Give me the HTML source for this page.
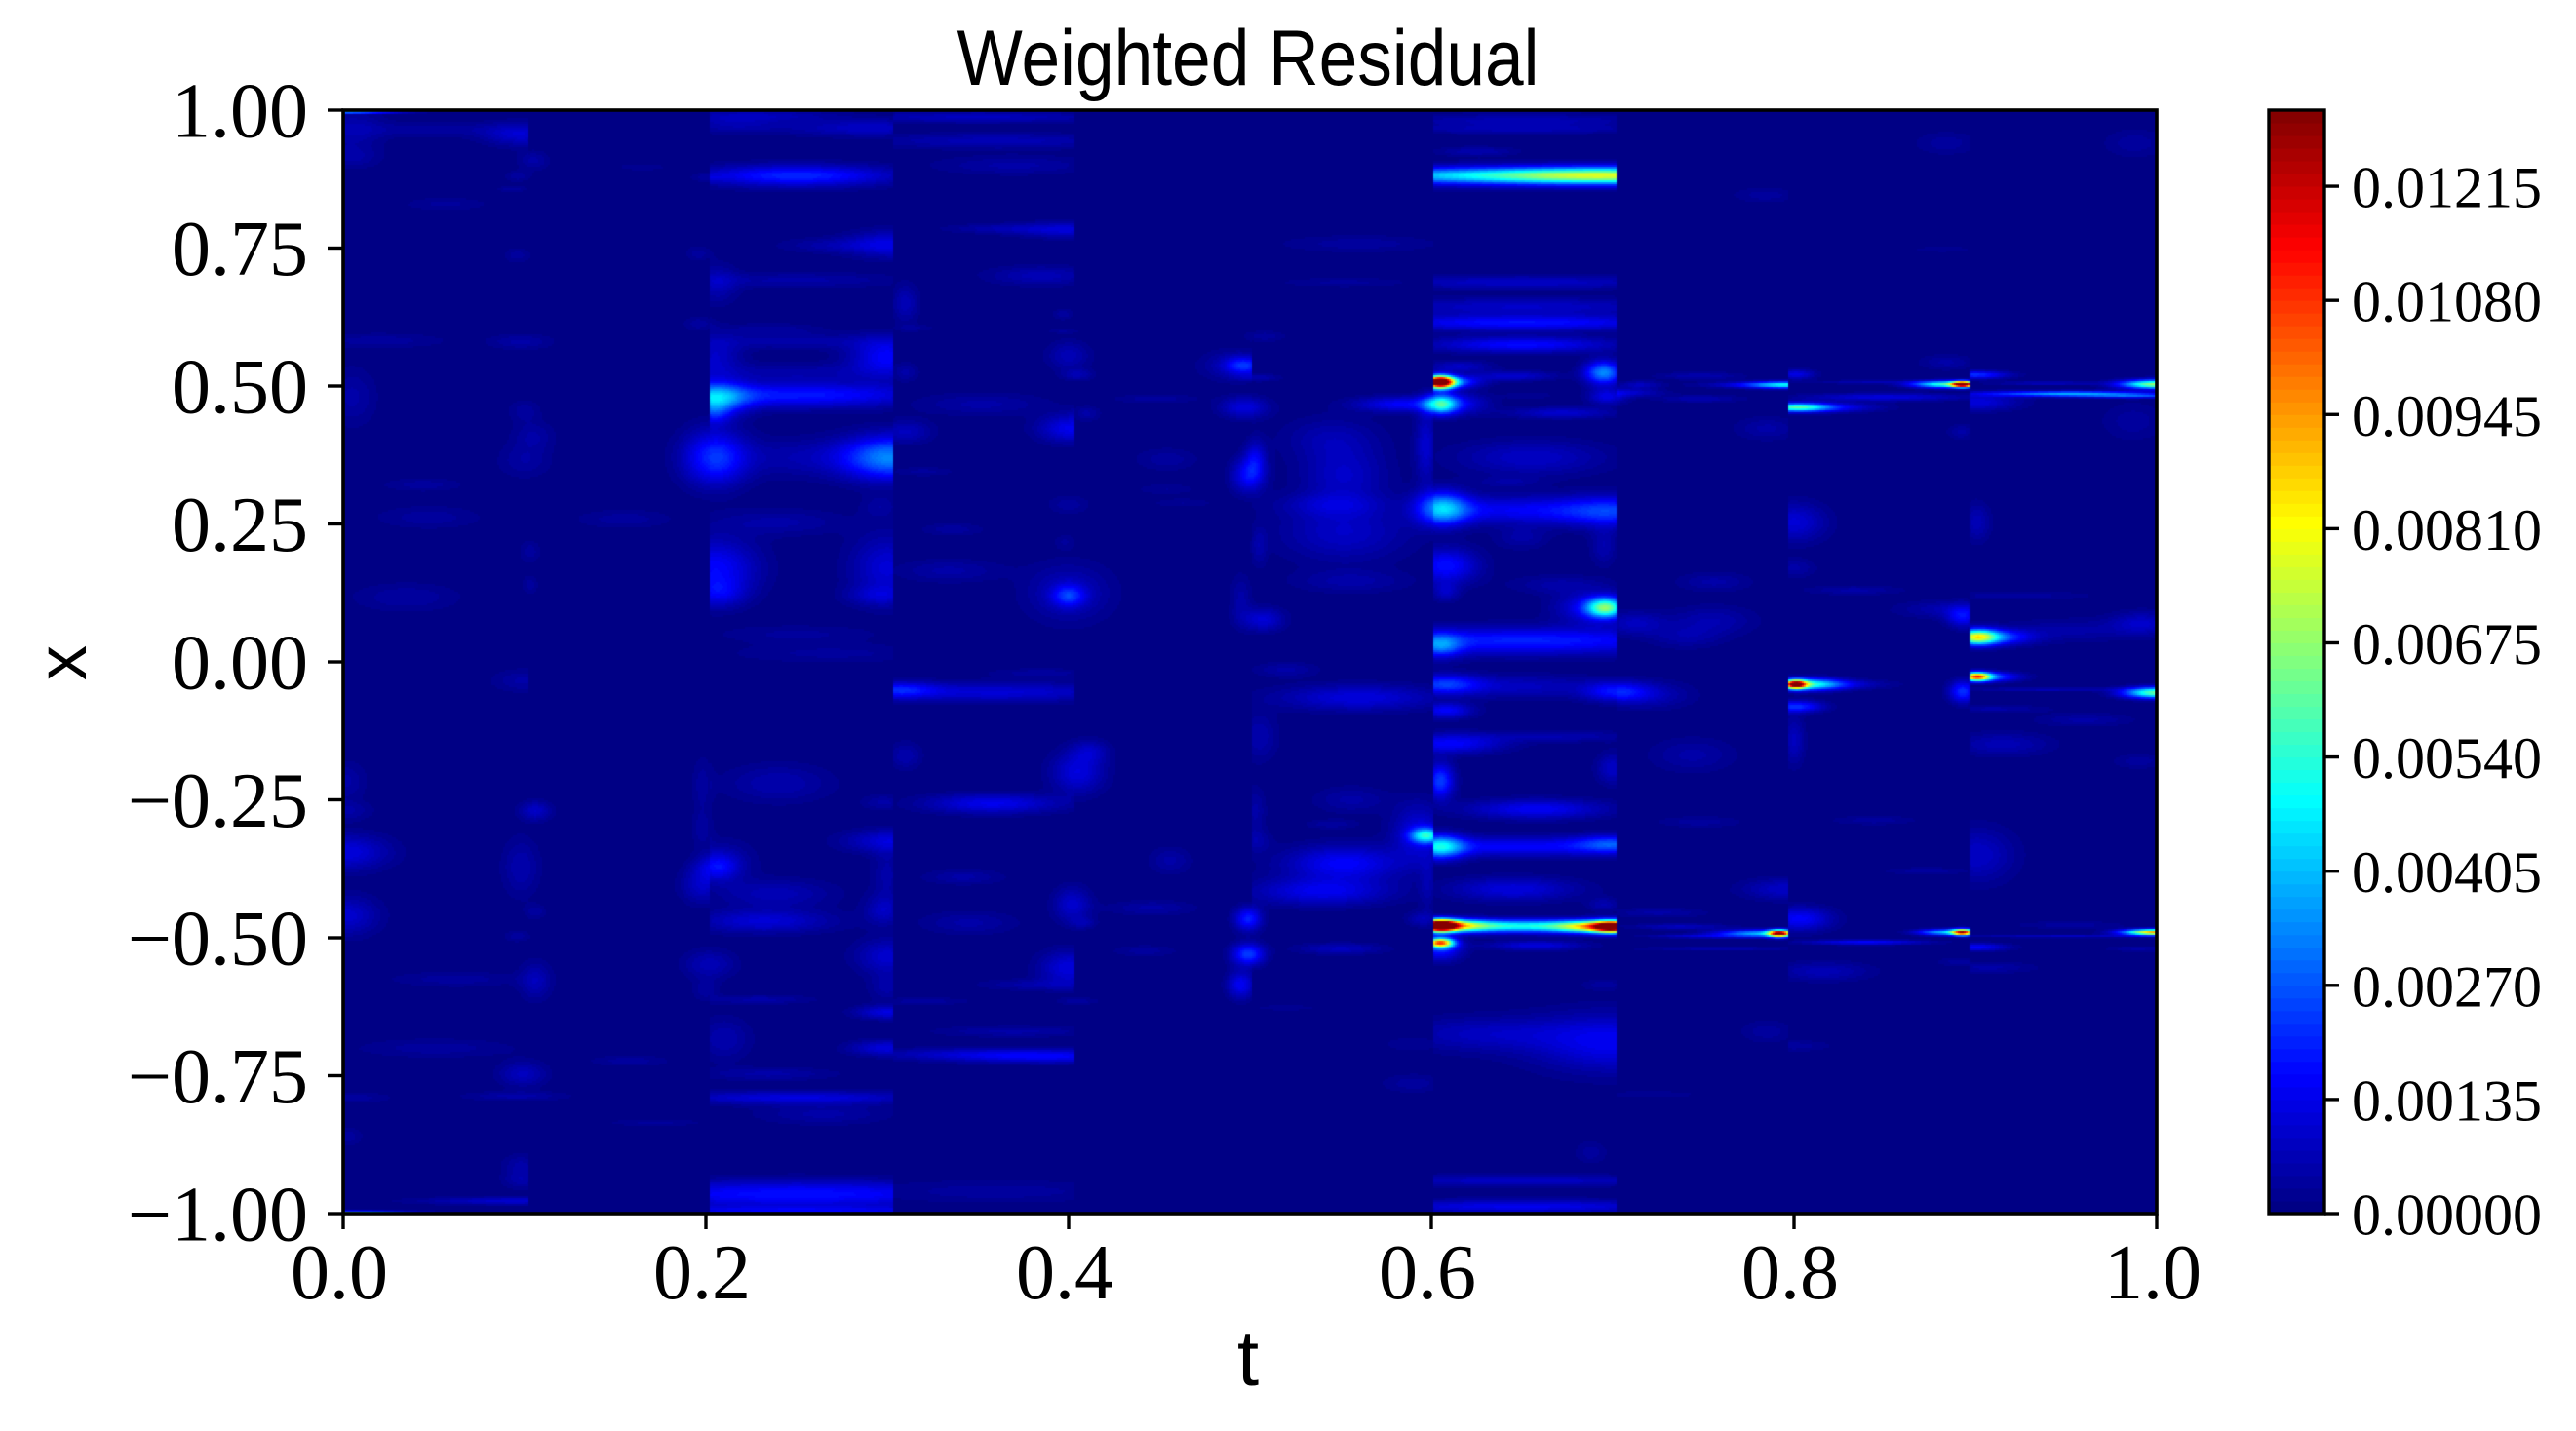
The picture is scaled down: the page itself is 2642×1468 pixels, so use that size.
<!DOCTYPE html>
<html lang="en">
<head>
<meta charset="utf-8">
<title>Weighted Residual</title>
<style>
html,body{margin:0;padding:0;background:#fff;}
#figure{position:relative;width:2642px;height:1468px;overflow:hidden;background:#fff;}
#heatmap-canvas{position:absolute;left:352px;top:113px;width:1860px;height:1132px;}
#overlay{position:absolute;left:0;top:0;}
text{fill:#000;}
.serif{font-family:"Liberation Serif",serif;}
.sans{font-family:"Liberation Sans",sans-serif;}
</style>
</head>
<body>
<div id="figure">
<canvas id="heatmap-canvas" width="1860" height="1132"></canvas>
<svg id="overlay" width="2642" height="1468" viewBox="0 0 2642 1468" xmlns="http://www.w3.org/2000/svg">
  <text class="sans" x="1280" y="87" font-size="81" text-anchor="middle" textLength="597" lengthAdjust="spacingAndGlyphs">Weighted Residual</text>
  <text class="sans" x="1280" y="1421" font-size="80" text-anchor="middle">t</text>
  <text class="sans" x="0" y="0" font-size="72" text-anchor="middle" transform="translate(88 680) rotate(-90)">x</text>
  <g id="axis-ticks"></g>
  <g id="colorbar"></g>
  <rect x="352" y="113" width="1860" height="1132" fill="none" stroke="#000" stroke-width="3.6"></rect>
</svg>
</div>
<script>
// Axis ticks
const tTicks = [0, 0.2, 0.4, 0.6, 0.8, 1];
const tTickLabels = ["0.0", "0.2", "0.4", "0.6", "0.8", "1.0"];
const xTicks = [1, 0.75, 0.5, 0.25, 0, -0.25, -0.5, -0.75, -1];
const xTickLabels = ["1.00", "0.75", "0.50", "0.25", "0.00", "\u22120.25", "\u22120.50", "\u22120.75", "\u22121.00"];
const colorTicks = [0, 0.00135, 0.0027, 0.00405, 0.0054, 0.00675, 0.0081, 0.00945, 0.0108, 0.01215];
const colorTickLabels = ["0.00000", "0.00135", "0.00270", "0.00405", "0.00540", "0.00675", "0.00810", "0.00945", "0.01080", "0.01215"];
const colorMax = 0.01305;
const colorStep = 0.00015;

// Training-window edges along t: residual jumps across these
const windowEdges = [0, .102, .202, .303, .403, .501, .601, .702, .797, .897, 1];

// Residual peaks (t, x, peak value, spread in t, spread in x, 1 = bleeds across windows)
const blobT = [
0,.0977,.05,.005,.003,.105,.096,.093,.0565,.096,
.02,.098,.005,.1,.105,.1,.044,.047,.155,.103,
.103,.035,.165,.23,.29,.215,.25,.2,.302,.27,
.206,.25,.196,.196,.236,.3,.205,.25,.25,.31,
.205,.25,.205,.205,.302,.255,.32,.31,.31,.315,
.24,.296,.205,.3,.295,.207,.25,.27,.35,.36,
.37,.4,.36,.385,.352,.401,.41,.4,.405,.397,
.397,.336,.334,.4,.4,.4,.398,.1,.001,.001,
.002,.002,.005,.002,.106,.098,.106,.096,.106,.062,
.051,.099,.095,.158,.172,.098,.098,.095,0,.198,
.198,.206,.198,.21,.24,.302,.3,.298,.298,.238,
.232,.202,.2,.3,.3,.23,.3,.3,.21,.235,
.25,.265,.25,.25,.31,.358,.342,.345,.402,.408,
.4,.38,.405,.306,.36,.385,.39,.34,.32,.37,
.36,.405,.412,.497,.49,.497,.448,.499,.503,.454,
.454,.463,.508,.505,.505,.495,.507,.56,.552,.545,
.552,.545,.552,.556,.597,.605,.585,.612,.605,.605,
.65,.65,.625,.702,.605,.65,.65,.65,.65,.615,
.645,.695,.697,.672,.654,.655,.642,.606,.65,.7,
.65,.608,.695,.608,.67,.696,.69,.65,.605,.712,
.756,.755,.74,.748,.748,.797,.78,.715,.71,.785,
.784,.8,.8,.833,.801,.815,.801,.85,.84,.893,
.883,.884,.882,.892,.884,.883,.893,.921,.901,.915,
.9,.9,.952,.99,.94,1,.988,.987,.901,.992,
.952,.56,.52,.505,.503,.503,.456,.556,.545,.552,
.54,.5975,.593,.598,.499,.446,.499,.495,.442,.55,
.595,.52,.607,.65,.702,.72,.608,.61,.67,.605,
.7,.658,.605,.65,.7,.645,.695,.605,.7,.65,
.61,.69,.605,.605,.658,.695,.7,.63,.59,.59,
.65,.65,.744,.748,.795,.792,.782,.75,.737,.725,
.76,.72,.785,.688,.801,.808,.82,.801,.8,.803,
.84,.893,.883,.893,.844,.873,.816,.8,.891,.901,
.905,1,.94,.91,.96,.915,.99,.901,1,.952,
.9,.95,.907,.99];
const blobX = [
.997,.956,.965,.965,.915,.909,.88,.857,.83,.737,
.582,.58,.48,.455,.41,.365,.321,.262,.259,.2,
.14,.117,.897,.99,.968,.975,.881,.878,.757,.755,
.685,.692,.74,.613,.602,.553,.553,.58,.525,.525,
.478,.484,.45,.37,.37,.37,.345,.417,.65,.605,
.253,.282,.17,.17,.12,.125,.05,.015,.987,.944,
.9,.783,.785,.7,.467,.423,.45,.555,.52,.63,
.6,.24,.165,.12,.125,.285,.218,-.034,-.216,-.27,
-.345,-.46,-.79,-.86,-.27,-.372,-.453,-.497,-.578,-.575,
-.7,-.747,-.787,-.723,-.835,-.913,-.94,-.977,-.998,-.223,
-.305,-.372,-.406,-.36,-.22,-.325,-.385,-.255,-.45,-.42,
-.47,-.548,-.595,-.534,-.59,-.612,-.635,-.7,-.683,-.747,
-.79,-.82,-.965,-.995,-.17,-.257,-.39,-.473,-.44,-.473,
-.555,-.585,-.615,-.051,-.055,-.02,-.715,-.71,-.615,-.67,
-.96,-.2,-.162,.537,.537,.461,.477,.338,.367,.367,
.313,.288,.59,.515,.21,.115,.077,.758,.688,.405,
.338,.285,.235,.146,.392,.467,.467,.468,.507,.507,
.981,.965,.925,.881,.881,.688,.644,.615,.575,.535,
.518,.524,.481,.451,.483,.37,.326,.278,.275,.272,
.225,.174,.21,.127,.14,.098,.098,.038,.03,.07,
.145,.075,.045,.518,.477,.502,.502,.502,.488,.423,
.846,.253,.17,.13,.461,.461,.521,.48,.507,.503,
.503,.94,.748,.417,.543,.095,.082,.12,.045,.045,
.52,.471,.486,.482,.505,.503,.94,.436,.253,.07,
.057,-.065,-.014,-.135,-.27,-.325,-.36,-.25,-.294,-.365,
-.416,-.315,-.31,-.4,-.466,-.446,-.53,-.585,-.524,-.52,
-.466,-.627,-.041,-.045,-.054,-.06,-.088,-.148,-.135,-.216,
-.193,-.267,-.335,-.335,-.33,-.412,-.44,-.478,-.48,-.479,
-.478,-.48,-.509,-.52,-.514,-.585,-.69,-.675,-.693,-.764,
-.94,-.987,-.169,-.29,-.412,-.492,-.492,-.497,-.48,-.455,
-.52,-.784,-.67,-.889,-.041,-.041,-.041,-.081,-.142,-.466,
-.508,-.49,-.49,-.054,-.287,-.379,-.561,-.696,-.544,-.027,
-.027,-.056,-.05,-.085,-.105,-.149,-.18,-.35,-.49,-.477,
-.517,-.497,-.554,-.52];
const blobPeak = [
.005,.001,.0004,.0006,.0005,.0005,.0004,.0004,.00035,.0004,
.0004,.0005,.0005,.0004,.00045,.00045,.0004,.0004,.0004,.0004,
.0004,.00045,.0003,.0006,.0009,.0006,.0021,.0004,.0012,.0005,
.0007,.0005,.0004,.0004,.0004,.0016,.0009,.0005,.0005,.0005,
.0034,.0019,.0012,.0022,.0032,.0006,.00035,.0008,.0007,.0003,
.0005,.0004,.0016,.0011,.0007,.001,.00035,.00035,.0008,.0007,
.0005,.0011,.0005,.0007,.0005,.0014,.0005,.0007,.0006,.0004,
.0003,.0004,.0005,.0018,.0008,.0004,.0003,.0005,.0005,.0005,
.0012,.001,.0004,.0004,.0009,.0006,.0004,.0004,.0007,.0004,
.0004,.0008,.0005,.0004,.00035,.0005,.0005,.001,.006,.0004,
.0004,.0014,.0009,.0005,.0006,.0011,.0005,.0005,.0008,.0007,
.0011,.0007,.0004,.001,.0005,.0005,.0012,.0012,.0006,.0005,
.0012,.0005,.0018,.0012,.0006,.0014,.0005,.0005,.001,.0005,
.0012,.0005,.0004,.0016,.0011,.0004,.0014,.0006,.0004,.0005,
.0004,.0012,.0007,.0019,.0006,.0012,.0004,.0016,.0012,.0004,
.0003,.0003,.0004,.0006,.0005,.0005,.0011,.0004,.00035,.0006,
.0009,.0007,.0009,.0005,.001,.0048,.0016,.0016,.0125,.0045,
.0007,.0006,.0006,.0068,.0032,.0009,.0009,.0018,.0017,.0009,
.001,.0034,.0013,.001,.0003,.0009,.0004,.0036,.0015,.0016,
.0005,.0018,.0006,.0008,.0005,.0055,.0015,.002,.0024,.0008,
.0005,.0006,.0005,.0006,.0006,.0042,.0012,.0008,.0009,.0005,
.0004,.0011,.0005,.0005,.0048,.0016,.0013,.0012,.0006,.0125,
.0055,.0004,.0003,.0005,.0005,.0006,.0016,.0004,.0075,.002,
.0022,.0012,.0038,.002,.0008,.0068,.0004,.0004,.0007,.0009,
.0005,.0012,.0005,.0006,.0005,.0005,.0005,.0005,.0004,.0016,
.0014,.0045,.0012,.0005,.002,.0005,.0024,.0015,.0004,.0008,
.0007,.0003,.0022,.0008,.0018,.0007,.0016,.0016,.0006,.0024,
.0009,.0015,.0042,.0016,.002,.0012,.0006,.0125,.011,.005,
.006,.006,.0095,.002,.0012,.0004,.0014,.0008,.0003,.0004,
.0009,.0014,.0005,.0004,.0009,.0115,.004,.001,.0008,.0005,
.0006,.0003,.0004,.0004,.0115,.0045,.0011,.0022,.0008,.0016,
.0016,.0105,.004,.0022,.0004,.0004,.0007,.0004,.0004,.0085,
.003,.0062,.0007,.0005,.0005,.0007,.0004,.0009,.0095,.0004,
.0016,.0008,.0005,.0005];
const blobSpreadT = [
.02,.014,.03,.012,.012,.006,.005,.006,.016,.005,
.025,.012,.009,.006,.008,.01,.015,.02,.018,.004,
.003,.02,.01,.03,.03,.02,.036,.006,.016,.02,
.008,.04,.005,.006,.02,.014,.01,.04,.04,.005,
.012,.05,.006,.012,.018,.03,.012,.01,.005,.008,
.025,.007,.016,.014,.012,.01,.03,.04,.05,.05,
.03,.02,.02,.02,.025,.012,.005,.008,.006,.004,
.006,.012,.02,.006,.016,.008,.004,.012,.008,.01,
.016,.012,.015,.006,.006,.007,.004,.005,.006,.025,
.03,.009,.02,.015,.018,.007,.007,.035,.025,.004,
.004,.008,.008,.012,.02,.018,.006,.008,.007,.022,
.026,.01,.005,.012,.007,.02,.012,.014,.01,.025,
.05,.025,.08,.08,.006,.025,.015,.018,.007,.005,
.011,.02,.008,.014,.05,.02,.04,.04,.018,.03,
.05,.01,.007,.007,.012,.009,.016,.006,.004,.012,
.012,.012,.008,.008,.003,.004,.008,.03,.025,.018,
.016,.02,.024,.022,.004,.006,.018,.012,.005,.012,
.05,.05,.015,.05,.06,.06,.06,.06,.035,.012,
.016,.007,.007,.02,.01,.028,.012,.01,.05,.02,
.01,.012,.005,.005,.018,.007,.014,.07,.008,.012,
.014,.016,.014,.016,.016,.014,.02,.008,.012,.012,
.012,.012,.008,.018,.012,.02,.007,.03,.02,.004,
.012,.012,.012,.005,.01,.018,.006,.03,.008,.012,
.012,.016,.03,.02,.02,.013,.012,.012,.005,.012,
.024,.03,.012,.007,.004,.006,.008,.014,.01,.022,
.026,.006,.01,.003,.005,.016,.006,.005,.012,.016,
.006,.012,.014,.03,.012,.016,.01,.02,.03,.005,
.006,.026,.009,.05,.014,.024,.006,.006,.007,.04,
.014,.014,.005,.008,.018,.008,.03,.035,.012,.012,
.06,.06,.016,.016,.016,.004,.016,.02,.018,.018,
.03,.02,.01,.006,.004,.012,.02,.01,.004,.012,
.022,.004,.01,.005,.016,.016,.018,.014,.008,.005,
.012,.012,.03,.02,.018,.018,.01,.014,.012,.02,
.012,.04,.018,.012];
const blobSpreadX = [
.0015,.012,.008,.02,.012,.01,.006,.003,.007,.008,
.008,.008,.03,.012,.015,.018,.007,.012,.01,.012,
.01,.015,.004,.006,.009,.01,.011,.005,.014,.008,
.02,.008,.008,.008,.007,.02,.022,.008,.01,.01,
.016,.013,.012,.028,.022,.02,.005,.012,.02,.004,
.014,.012,.03,.035,.01,.015,.01,.01,.006,.008,
.01,.008,.005,.01,.012,.014,.008,.015,.006,.006,
.003,.007,.012,.011,.03,.01,.008,.012,.02,.01,
.018,.02,.006,.01,.01,.03,.008,.006,.02,.008,
.01,.013,.005,.006,.004,.012,.009,.004,.0015,.03,
.02,.014,.018,.022,.02,.012,.03,.008,.015,.015,
.012,.015,.012,.018,.015,.005,.007,.008,.022,.007,
.007,.011,.014,.005,.014,.01,.008,.012,.018,.006,
.018,.006,.004,.008,.01,.005,.007,.006,.004,.006,
.012,.022,.012,.009,.016,.011,.005,.018,.02,.012,
.006,.005,.006,.004,.02,.025,.012,.009,.005,.022,
.03,.012,.03,.012,.04,.01,.008,.011,.0065,.006,
.007,.005,.005,.009,.009,.007,.009,.008,.008,.006,
.005,.012,.008,.006,.004,.018,.006,.017,.014,.016,
.012,.018,.02,.01,.01,.01,.016,.014,.012,.012,
.01,.015,.012,.004,.004,.0035,.003,.004,.004,.012,
.008,.02,.01,.005,.0045,.005,.005,.004,.002,.003,
.0035,.012,.003,.008,.008,.009,.011,.005,.008,.008,
.004,.009,.0028,.002,.002,.0045,.015,.02,.02,.012,
.012,.013,.008,.025,.025,.012,.014,.014,.005,.018,
.014,.008,.03,.03,.012,.008,.011,.014,.006,.006,
.008,.003,.01,.012,.01,.014,.008,.01,.006,.018,
.016,.01,.012,.01,.009,.012,.007,.006,.006,.0065,
.006,.006,.005,.012,.005,.006,.03,.018,.008,.01,
.006,.007,.018,.006,.011,.0035,.0035,.002,.003,.005,
.002,.004,.012,.012,.0045,.006,.005,.006,.025,.012,
.0025,.0032,.003,.011,.005,.004,.01,.006,.005,.0045,
.005,.0055,.002,.004,.007,.012,.008,.028,.003,.004,
.004,.0015,.006,.003];
const blobOpen = [
1,0,0,0,0,1,1,1,1,1,
1,1,1,1,1,1,1,1,1,1,
1,1,1,0,0,0,0,1,0,0,
0,0,1,1,0,0,0,0,0,0,
0,0,0,1,0,0,0,0,0,0,
0,0,0,0,0,0,0,0,0,0,
0,0,0,0,0,0,1,1,1,1,
1,0,0,1,1,1,1,0,0,0,
0,0,0,0,1,1,1,1,1,1,
1,1,1,1,1,0,0,0,1,1,
1,1,0,0,0,0,0,0,0,0,
0,1,1,0,0,0,0,0,0,0,
0,0,0,0,0,0,0,0,1,1,
0,0,1,0,0,0,0,0,0,0,
0,1,1,0,0,1,0,1,1,0,
0,0,1,1,1,1,1,0,0,0,
0,0,0,0,0,1,0,0,0,0,
0,0,0,0,0,0,0,0,0,0,
0,0,1,0,0,0,0,1,0,0,
0,0,0,0,0,0,0,0,0,0,
0,0,0,0,0,0,0,0,0,0,
0,0,0,0,0,0,0,0,0,0,
0,0,0,0,0,0,0,0,0,0,
0,0,0,0,0,0,0,0,0,0,
0,0,0,0,0,0,0,0,0,0,
0,0,0,0,1,0,1,0,0,0,
0,0,0,0,1,0,0,0,0,0,
0,0,0,0,0,0,0,0,0,0,
0,0,0,0,0,0,0,0,0,0,
0,0,0,0,0,0,0,0,0,0,
0,0,0,0,0,0,0,0,0,0,
0,0,0,0,0,0,0,0,0,0,
0,0,0,0,0,0,0,0,0,0,
0,0,0,0];
const spreadXWiden = 1.2;

// Axis functions
const PLOT_L = 352, PLOT_T = 113, PLOT_W = 1860, PLOT_H = 1132;
const xScale = t => PLOT_L + t * PLOT_W;
const yScale = x => PLOT_T + (1 - x) / 2 * PLOT_H;
const cScale = v => PLOT_T + PLOT_H - v / colorMax * PLOT_H;

function clamp01(a) { return a < 0 ? 0 : a > 1 ? 1 : a; }
function jet(f) {
  const r = clamp01(1.5 - Math.abs(4 * f - 3));
  const g = clamp01(1.5 - Math.abs(4 * f - 2));
  const b = clamp01(1.5 - Math.abs(4 * f - 1));
  return "rgb(" + Math.round(r * 255) + "," + Math.round(g * 255) + "," + Math.round(b * 255) + ")";
}
const levelCount = Math.round(colorMax / colorStep);
function levelColor(i) { return jet((i + 0.5) / levelCount); }
const levelColors = [];
for (let i = 0; i < levelCount; i++) levelColors.push(levelColor(i));

// Heatmap
(function drawHeatmap() {
  const canvas = document.getElementById("heatmap-canvas");
  const ctx = canvas.getContext("2d");
  const nT = 930, nX = 566;
  const field = new Float32Array(nT * nX);
  for (let b = 0; b < blobT.length; b++) {
    const t0 = blobT[b], x0 = blobX[b], peak = blobPeak[b], st = blobSpreadT[b], sx = blobSpreadX[b] * spreadXWiden;
    let lo = 0, hi = 1;
    if (!blobOpen[b]) {
      for (let e = 1; e < windowEdges.length; e++) {
        if (t0 <= windowEdges[e]) { lo = windowEdges[e - 1]; hi = windowEdges[e]; break; }
      }
    }
    const tMin = Math.max(lo, t0 - 4 * st), tMax = Math.min(hi, t0 + 4 * st);
    const xMin = Math.max(-1, x0 - 4 * sx), xMax = Math.min(1, x0 + 4 * sx);
    const iA = Math.max(0, Math.floor(tMin * nT)), iB = Math.min(nT - 1, Math.ceil(tMax * nT));
    const jA = Math.max(0, Math.floor((1 - xMax) / 2 * nX)), jB = Math.min(nX - 1, Math.ceil((1 - xMin) / 2 * nX));
    for (let j = jA; j <= jB; j++) {
      const x = 1 - 2 * (j + 0.5) / nX;
      const gx = (x - x0) / sx;
      for (let i = iA; i <= iB; i++) {
        const t = (i + 0.5) / nT;
        if (t < lo || t > hi) continue;
        const gt = (t - t0) / st;
        field[j * nT + i] += peak * Math.exp(-0.5 * (gt * gt + gx * gx));
      }
    }
  }
  ctx.fillStyle = levelColors[0];
  ctx.fillRect(0, 0, PLOT_W, PLOT_H);
  for (let j = 0; j < nX; j++) {
    const yA = Math.round(yScale(1 - 2 * j / nX)) - PLOT_T;
    const yB = Math.round(yScale(1 - 2 * (j + 1) / nX)) - PLOT_T;
    for (let i = 0; i < nT; i++) {
      let lvl = Math.floor(field[j * nT + i] / colorStep);
      if (lvl <= 0) continue;
      if (lvl >= levelCount) lvl = levelCount - 1;
      const xA = Math.round(xScale(i / nT)) - PLOT_L;
      const xB = Math.round(xScale((i + 1) / nT)) - PLOT_L;
      ctx.fillStyle = levelColors[lvl];
      ctx.fillRect(xA, yA, xB - xA, yB - yA);
    }
  }
})();

// Axes and colorbar
const SVG_NS = "http://www.w3.org/2000/svg";
const tickGroup = document.getElementById("axis-ticks");
const colorbarGroup = document.getElementById("colorbar");

function makeLine(x1, y1, x2, y2) {
  const ln = document.createElementNS(SVG_NS, "line");
  ln.setAttribute("x1", x1);
  ln.setAttribute("y1", y1);
  ln.setAttribute("x2", x2);
  ln.setAttribute("y2", y2);
  ln.setAttribute("stroke", "#000");
  ln.setAttribute("stroke-width", "3.4");
  return ln;
}
function makeText(str, x, y, size, anchor) {
  const tx = document.createElementNS(SVG_NS, "text");
  tx.setAttribute("x", x);
  tx.setAttribute("y", y);
  tx.setAttribute("font-size", size);
  tx.setAttribute("text-anchor", anchor);
  tx.setAttribute("class", "serif");
  tx.textContent = str;
  return tx;
}

tTicks.forEach((t, i) => {
  const ln = makeLine(xScale(t), PLOT_T + PLOT_H, xScale(t), PLOT_T + PLOT_H + 16);
  
  
  tickGroup.appendChild(ln);
  const tx = makeText(tTickLabels[i], xScale(t) - 4, 1332, 80, "middle");
  
  
  tickGroup.appendChild(tx);
});

xTicks.forEach((v, i) => {
  const ln = makeLine(PLOT_L - 16, yScale(v), PLOT_L, yScale(v));
  
  
  tickGroup.appendChild(ln);
  const tx = makeText(xTickLabels[i], 316, yScale(v) + 27.5, 80, "end");
  
  
  tickGroup.appendChild(tx);
});

const CB_L = 2327, CB_W = 57;
for (let i = 0; i < levelCount; i++) {
  const y1 = cScale((i + 1) * colorStep), y0 = cScale(i * colorStep);
  const band = document.createElementNS(SVG_NS, "rect");
  band.setAttribute("x", CB_L);
  band.setAttribute("y", y1);
  band.setAttribute("width", CB_W);
  band.setAttribute("height", y0 - y1 + 0.5);
  band.setAttribute("fill", levelColors[i]);
  
  
  colorbarGroup.appendChild(band);
}
const cbFrame = document.createElementNS(SVG_NS, "rect");
cbFrame.setAttribute("x", CB_L);
cbFrame.setAttribute("y", PLOT_T);
cbFrame.setAttribute("width", CB_W);
cbFrame.setAttribute("height", PLOT_H);
cbFrame.setAttribute("fill", "none");
cbFrame.setAttribute("stroke", "#000");
cbFrame.setAttribute("stroke-width", "3.4");


colorbarGroup.appendChild(cbFrame);

colorTicks.forEach((v, i) => {
  const ln = makeLine(CB_L + CB_W, cScale(v), CB_L + CB_W + 15, cScale(v));
  
  
  colorbarGroup.appendChild(ln);
  const tx = makeText(colorTickLabels[i], 2412, cScale(v) + 21.5, 60, "start");
  
  
  colorbarGroup.appendChild(tx);
});
</script>
</body>
</html>
